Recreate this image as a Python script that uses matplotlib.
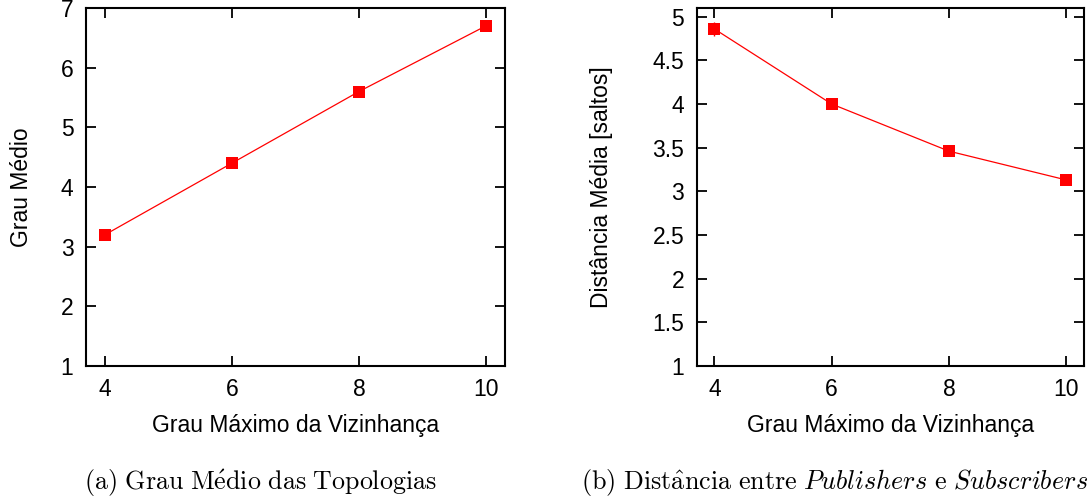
import matplotlib
matplotlib.use("Agg")
import matplotlib.pyplot as plt

# Data
grau_max = [4, 6, 8, 10]
grau_medio = [3.2, 4.4, 5.6, 6.7]
distancia_media = [4.86, 4.00, 3.46, 3.13]
distancia_err = [0.08, 0.03, 0.03, 0.03]

xlabel = "Grau Máximo da Vizinhança"
ylabel_a = "Grau Médio"
ylabel_b = "Distância Média [saltos]"
xticks = [4, 6, 8, 10]
yticks_a = [1, 2, 3, 4, 5, 6, 7]
yticks_b = [1, 1.5, 2, 2.5, 3, 3.5, 4, 4.5, 5]
yticklabels_b = ["1", "1.5", "2", "2.5", "3", "3.5", "4", "4.5", "5"]
caption_a = r"$\mathrm{(a)\ Grau\ M\acute{e}dio\ das\ Topologias}$"
caption_b = r"$\mathrm{(b)\ Dist\hat{a}ncia\ entre\ }\mathit{Publishers}\mathrm{\ e\ }\mathit{Subscribers}$"

plt.rcParams['font.family'] = ['Liberation Sans', 'DejaVu Sans']
plt.rcParams['mathtext.fontset'] = 'cm'

fig = plt.figure(figsize=(10.91, 5.01), dpi=100)
ax1 = fig.add_axes([0.0788, 0.2695, 0.3841, 0.7146])
ax2 = fig.add_axes([0.6386, 0.2695, 0.3550, 0.7146])

FS = 16.5
for ax in (ax1, ax2):
    for s in ax.spines.values():
        s.set_linewidth(1.5)
    ax.tick_params(direction='in', length=7, width=1.3, top=True, right=True,
                   labelsize=FS, pad=9)
    ax.set_xticks(xticks)
    ax.set_xlim(3.7, 10.3)
    ax.set_xlabel(xlabel, fontsize=FS, labelpad=9)

ax1.plot(grau_max, grau_medio, color='#ff0000', lw=0.9, marker='s',
         markersize=8.7, markeredgewidth=0)
ax1.set_ylim(1, 7)
ax1.set_yticks(yticks_a)
ax1.set_ylabel(ylabel_a, fontsize=FS, labelpad=20)

ax2.errorbar(grau_max, distancia_media, yerr=distancia_err, color='#ff0000',
             lw=0.9, marker='s', markersize=8.7, markeredgewidth=0,
             capsize=4, elinewidth=1, capthick=1)
ax2.set_ylim(1, 5.1)
ax2.set_yticks(yticks_b)
ax2.set_yticklabels(yticklabels_b)
ax2.set_ylabel(ylabel_b, fontsize=FS, labelpad=28)

fig.text(0.239, 0.036, caption_a, ha='center', va='center', fontsize=18.7)
fig.text(0.7645, 0.036, caption_b, ha='center', va='center', fontsize=18.8)

fig.savefig("out.png", dpi=100)
